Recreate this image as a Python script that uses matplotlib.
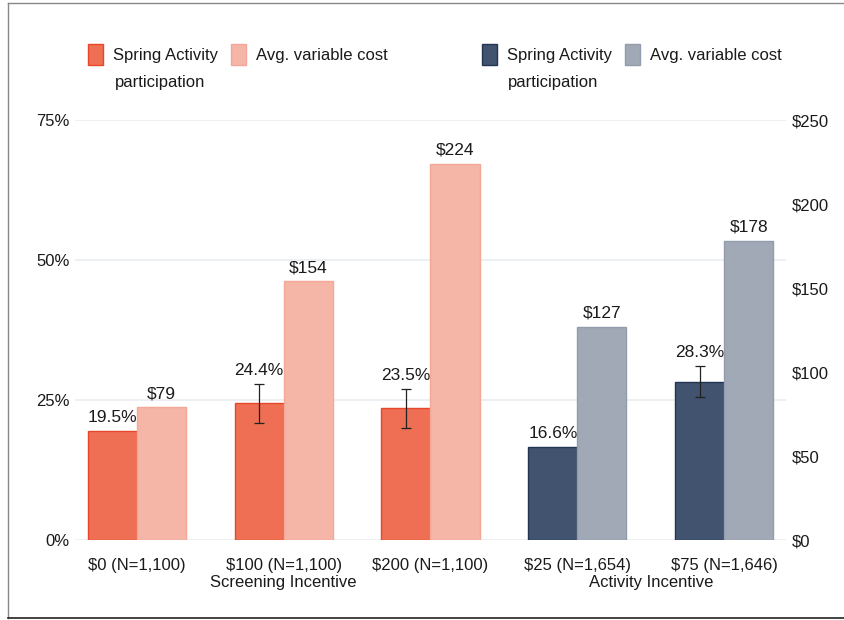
import numpy as np
import matplotlib.pyplot as plt
from matplotlib.patches import Patch
from matplotlib.lines import Line2D

plt.rcParams['font.family'] = ['Liberation Sans', 'DejaVu Sans']
plt.rcParams['font.size'] = 12

groups = ['$0 (N=1,100)', '$100 (N=1,100)', '$200 (N=1,100)', '$25 (N=1,654)', '$75 (N=1,646)']
participation = [19.5, 24.4, 23.5, 16.6, 28.3]
part_err = [None, 3.45, 3.45, None, 2.8]
avg_cost = [79, 154, 224, 127, 178]
program = ['Screening', 'Screening', 'Screening', 'Activity', 'Activity']

red, red_edge = '#EE6F54', '#E8472B'
salmon, salmon_edge = '#F5B5A7', '#F3A898'
navy, navy_edge = '#42536F', '#233554'
grey, grey_edge = '#A1A9B7', '#939CAC'
txt = '#1a1a1a'

fig = plt.figure(figsize=(8.45, 6.2), dpi=100)
ax = fig.add_axes([75 / 845, 1 - 540 / 620, 711 / 845, 420 / 620])
ax2 = ax.twinx()

x = np.arange(len(groups))
w = 0.334
for i in range(len(groups)):
    if program[i] == 'Screening':
        c1, e1, c2, e2 = red, red_edge, salmon, salmon_edge
    else:
        c1, e1, c2, e2 = navy, navy_edge, grey, grey_edge
    ax.bar(x[i] - w / 2, participation[i], w, color=c1, edgecolor=e1, linewidth=1, zorder=2)
    ax2.bar(x[i] + w / 2, avg_cost[i], w, color=c2, edgecolor=e2, linewidth=1, zorder=2)
    top = participation[i]
    if part_err[i] is not None:
        ax.errorbar(x[i] - w / 2, participation[i], yerr=part_err[i], color='#222222',
                    linewidth=0.9, capsize=3.5, capthick=0.9, zorder=3)
        top = participation[i] + part_err[i]
    ax.annotate(f'{participation[i]:.1f}%', (x[i] - w / 2, top), xytext=(0, 4.5),
                textcoords='offset points', ha='center', va='bottom', color=txt, fontsize=12.5)
    ax2.annotate(f'${avg_cost[i]}', (x[i] + w / 2, avg_cost[i]), xytext=(0, 4.5),
                 textcoords='offset points', ha='center', va='bottom', color=txt, fontsize=12.5)

ax.set_xlim(-0.42, 4.42)
ax.set_ylim(0, 75)
ax2.set_ylim(0, 250)
ax.set_yticks([0, 25, 50, 75])
ax.set_yticklabels(['0%', '25%', '50%', '75%'])
ax2.set_yticks([0, 50, 100, 150, 200, 250])
ax2.set_yticklabels(['$0', '$50', '$100', '$150', '$200', '$250'])
ax.set_xticks(x)
ax.set_xticklabels(groups)
ax.grid(axis='y', color='#E9EEF1', linewidth=1.2, zorder=0)
ax.set_axisbelow(True)
for a in (ax, ax2):
    for s in a.spines.values():
        s.set_visible(False)
    a.tick_params(length=0, colors=txt, labelsize=12)
ax.tick_params(axis='x', pad=13)
ax.tick_params(axis='y', pad=4)
ax2.tick_params(axis='y', pad=4)

# program labels under ticks
tr = ax.get_xaxis_transform()
ax.text(1, -0.1, 'Screening Incentive', transform=tr, ha='center', va='center', color=txt)
ax.text(3.5, -0.1, 'Activity Incentive', transform=tr, ha='center', va='center', color=txt)

# legends: two blocks, second line of first label set underneath
h1 = [Patch(facecolor=red, edgecolor=red_edge), Patch(facecolor=salmon, edgecolor=salmon_edge)]
h2 = [Patch(facecolor=navy, edgecolor=navy_edge), Patch(facecolor=grey, edgecolor=grey_edge)]
labs = ['Spring Activity', 'Avg. variable cost']
for hs, xpos in ((h1, 88 / 845), (h2, 482 / 845)):
    leg = fig.legend(hs, labs, ncol=2, loc='upper left', bbox_to_anchor=(xpos, 1 - 44 / 620),
                     frameon=False, borderpad=0, borderaxespad=0, handlelength=0.9,
                     handleheight=1.6, handletextpad=0.6, columnspacing=0.8, fontsize=12)
    for t in leg.get_texts():
        t.set_color(txt)
fig.text(115 / 845, 1 - 82 / 620, 'participation', ha='left', va='center', color=txt, fontsize=12)
fig.text(508 / 845, 1 - 82 / 620, 'participation', ha='left', va='center', color=txt, fontsize=12)

# figure border
fig.add_artist(Line2D([8 / 845, 8 / 845], [2 / 620, 1 - 3 / 620], color='#888888', lw=1))
fig.add_artist(Line2D([8 / 845, 1], [1 - 3 / 620, 1 - 3 / 620], color='#888888', lw=1))
fig.add_artist(Line2D([8 / 845, 1], [2 / 620, 2 / 620], color='#222222', lw=1.2))

fig.savefig('out.png', dpi=100)
